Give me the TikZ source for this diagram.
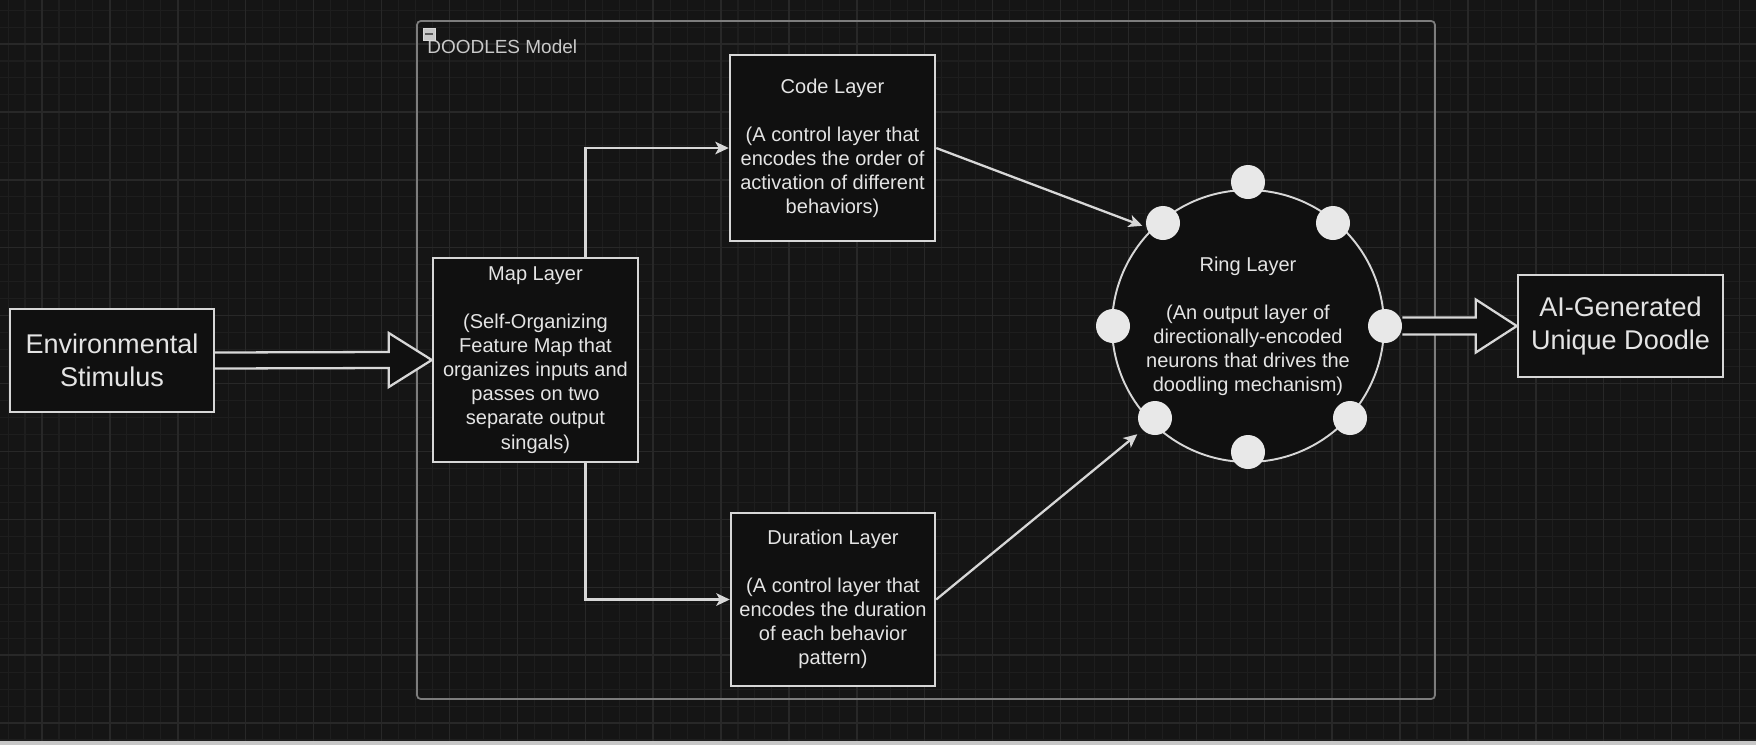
\documentclass[tikz,border=0pt]{standalone}
\usepackage{fontspec}
\setmainfont{Liberation Sans}
\usetikzlibrary{positioning,arrows.meta,calc}
\definecolor{canvas}{RGB}{21,21,21}
\definecolor{boxfill}{RGB}{16,16,16}
\definecolor{minorline}{RGB}{30,30,30}
\definecolor{majorline}{RGB}{40,40,40}
\definecolor{edge}{RGB}{215,215,215}
\definecolor{frame}{RGB}{125,125,125}
\definecolor{ink}{RGB}{228,228,228}
\definecolor{neuron}{RGB}{232,232,232}

\begin{document}
\begin{tikzpicture}[x=0.02cm, y=-0.02cm,
  layer/.style={draw=edge, line width=1.4pt, fill=boxfill, text=ink, align=center, inner sep=0pt, minimum width=4.1cm, font=\fontsize{11.4}{13.7}\selectfont},
  endbox/.style={layer, minimum height=2.06cm, font=\fontsize{15.4}{18.8}\selectfont},
  unit/.style={circle, fill=neuron, minimum size=0.68cm, inner sep=0pt},
  link/.style={draw=edge, line width=1.3pt, -{Stealth[length=0.27cm, width=0.25cm, inset=0.07cm]}},
  hollow/.style={draw=edge, line width=1.3pt, fill=boxfill, line join=miter}]
\useasboundingbox (0,0) rectangle (1756,745);
% Canvas and grid
\fill[canvas] (0,0) rectangle (1756,745);
\foreach \i in {-2,...,101} \draw[minorline, line width=0.6pt] ({42+16.975*\i},0) -- ({42+16.975*\i},745);
\foreach \i in {-2,...,42} \draw[minorline, line width=0.6pt] (0,{44+16.975*\i}) -- (1756,{44+16.975*\i});
\foreach \i in {0,...,25} \draw[majorline, line width=0.8pt] ({42+67.9*\i},0) -- ({42+67.9*\i},745);
\foreach \i in {0,...,10} \draw[majorline, line width=0.8pt] (0,{44+67.9*\i}) -- (1756,{44+67.9*\i});
\fill[black!22!white] (0,741) rectangle (1756,745);

% Container
\node[draw=frame, line width=1pt, rounded corners=2pt, minimum width=20.36cm, minimum height=13.56cm] (model) at (926,360) {};
\node[anchor=base west, inner sep=0pt, text=ink!88!black, font=\fontsize{10.8}{13}\selectfont] (modeltitle) at (427,53) {DOODLES Model};
\node[draw=white!85!black, fill=black!22!white, line width=0.5pt, minimum size=0.24cm, inner sep=0pt] (fold) at (429,34) {};
\draw[black!65!white, line width=1pt] ([xshift=0.05cm]fold.west) -- ([xshift=-0.05cm]fold.east);

% Components
\node[endbox, minimum width=4.08cm] (env) at (112,360.5) {Environmental\\Stimulus};
\node[layer, minimum height=4.08cm] (map) at (535.5,360) {Map Layer\\[13.7pt](Self-Organizing\\Feature Map that\\organizes inputs and\\passes on two\\separate output\\singals)};
\node[layer, minimum height=3.72cm] (code) at (832.5,148) {Code Layer\\[13.7pt](A control layer that\\encodes the order of\\activation of different\\behaviors)};
\node[layer, minimum width=4.08cm, minimum height=3.46cm] (duration) at (833,599.5) {Duration Layer\\[13.7pt](A control layer that\\encodes the duration\\of each behavior\\pattern)};
\node[circle, draw=edge, line width=1.1pt, fill=boxfill, text=ink, align=center, inner sep=0pt, minimum size=5.44cm, font=\fontsize{11.4}{13.7}\selectfont] (ring) at (1248,326) {Ring Layer\\[13.7pt](An output layer of\\directionally-encoded\\neurons that drives the\\doodling mechanism)};
\foreach \name/\pos in {n1/{1248,182}, n2/{1333,223}, n3/{1385,326}, n4/{1350,418}, n5/{1248,452}, n6/{1155,418}, n7/{1113,326}, n8/{1163,223}}
  \node[unit] (\name) at (\pos) {};
\node[endbox, minimum height=2.04cm] (ai) at (1620.5,326) {AI-Generated\\Unique Doodle};

% Connections
\draw[hollow] ($(env.east)+(0,-8)$) -- ($(map.west)+(-43,-8)$) -- ++(0,-19) -- (map.west) -- ($(map.west)+(-43,27)$) -- ++(0,-19) -- ($(env.east)+(0,8)$);
\draw[hollow] ($(n3.east)+(0,-8.5)$) -- ($(ai.west)+(-41,-8.5)$) -- ++(0,-18) -- (ai.west) -- ($(ai.west)+(-41,26.5)$) -- ++(0,-18) -- ($(n3.east)+(0,8.5)$);
\draw[link] ([xshift=1cm]map.north) |- (code.west);
\draw[link] ([xshift=1cm]map.south) |- (duration.west);
\draw[link, shorten >=0.19cm] (code.east) -- (ring.135);
\draw[link, shorten >=0.36cm] (duration.east) -- (ring.225);
\end{tikzpicture}
\end{document}
